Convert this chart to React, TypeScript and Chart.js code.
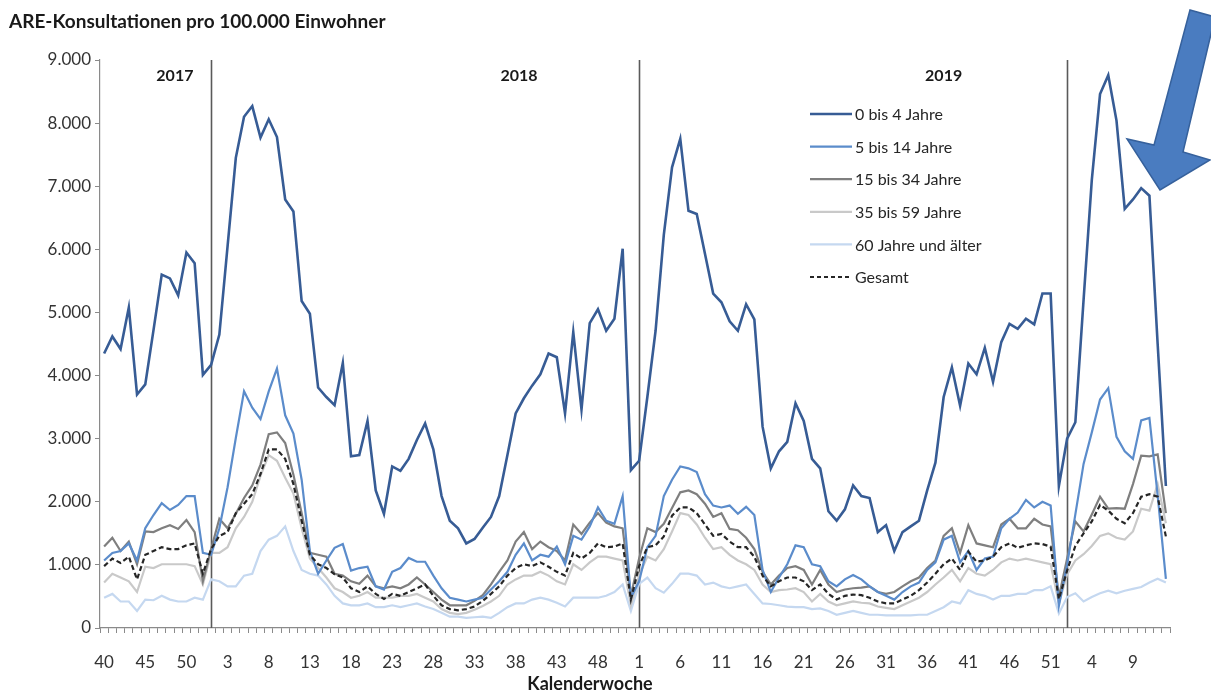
import React, { useEffect, useRef } from 'react';
import { Chart, registerables } from 'chart.js';

Chart.register(...registerables);

// ---- categories (calendar weeks 2017-W40 ... 2020-W13) ----
const range = (a: number, b: number) => Array.from({ length: b - a + 1 }, (_, k) => String(a + k));
const weeks: string[] = [...range(40, 52), ...range(1, 52), ...range(1, 52), ...range(1, 13)];
const yearLabels = ['2017', '2018', '2019'];

const seriesNames = ['0 bis 4 Jahre', '5 bis 14 Jahre', '15 bis 34 Jahre', '35 bis 59 Jahre', '60 Jahre und älter', 'Gesamt'];

const age0_4 = [
  4350, 4620, 4420, 5080, 3700, 3860, 4720, 5600, 5540, 5270, 5950, 5780, 4010,
  4170, 4650, 6050, 7450, 8100, 8270, 7770, 8060, 7780, 6790, 6600, 5180, 4980, 3810, 3660, 3530, 4200, 2720, 2740, 3280, 2180, 1810, 2560, 2490, 2680, 2980, 3240, 2830, 2090, 1700, 1580, 1340, 1410, 1590, 1760, 2090, 2740, 3400, 3640, 3840, 4020, 4350, 4290, 3400, 4690, 3460, 4830, 5050, 4710, 4900, 6010, 2500,
  2650, 3660, 4710, 6230, 7300, 7750, 6610, 6560, 5930, 5300, 5160, 4860, 4710, 5130, 4890, 3190, 2530, 2800, 2950, 3560, 3280, 2680, 2530, 1850, 1700, 1880, 2260, 2090, 2060, 1520, 1630, 1220, 1520, 1610, 1700, 2180, 2620, 3660, 4130, 3520, 4190, 4020, 4440, 3900, 4530, 4820, 4740, 4900, 4810, 5300, 5300, 2250,
  3000, 3260, 5200, 7100, 8460, 8760, 8040, 6640, 6790, 6970, 6850, 4500, 2250,
];

const age5_14 = [
  1070, 1190, 1220, 1340, 1070, 1580, 1790, 1980, 1870, 1950, 2090, 2090, 1190,
  1160, 1580, 2230, 3010, 3750, 3490, 3310, 3750, 4110, 3370, 3080, 2350, 1220, 860, 1070, 1270, 1330, 910, 950, 970, 660, 610, 890, 950, 1110, 1050, 1050, 830, 630, 480, 450, 420, 450, 480, 610, 740, 890, 1160, 1340, 1070, 1160, 1130, 1290, 1010, 1460, 1400, 1610, 1910, 1700, 1650, 2090, 480,
  740, 1280, 1460, 2090, 2350, 2560, 2530, 2470, 2120, 1940, 1910, 1940, 1810, 1920, 1790, 920, 570, 800, 1010, 1310, 1280, 1010, 980, 740, 660, 770, 840, 770, 660, 570, 510, 450, 570, 660, 720, 920, 1040, 1400, 1460, 1040, 1220, 920, 1100, 1130, 1580, 1730, 1830, 2030, 1910, 2000, 1940, 350,
  1000, 1800, 2600, 3100, 3620, 3800, 3030, 2800, 2680, 3290, 3330, 2100, 780,
];

const age15_34 = [
  1290, 1430, 1220, 1370, 1010, 1530, 1520, 1580, 1630, 1570, 1710, 1520, 740,
  1250, 1730, 1580, 1810, 2060, 2260, 2590, 3070, 3100, 2930, 2430, 1820, 1190, 1160, 1130, 860, 830, 740, 700, 830, 660, 630, 660, 630, 690, 800, 690, 570, 450, 360, 360, 360, 430, 520, 690, 890, 1070, 1370, 1520, 1250, 1370, 1280, 1220, 1070, 1640, 1490, 1670, 1820, 1670, 1610, 1580, 510,
  1100, 1580, 1520, 1650, 1900, 2150, 2180, 2120, 1970, 1760, 1820, 1570, 1550, 1430, 1250, 890, 690, 830, 950, 980, 920, 690, 920, 690, 570, 610, 630, 640, 660, 570, 540, 570, 660, 740, 800, 950, 1070, 1460, 1580, 1190, 1630, 1340, 1310, 1280, 1640, 1730, 1580, 1580, 1730, 1640, 1610, 490,
  1100, 1690, 1530, 1800, 2080, 1890, 1900, 1890, 2280, 2730, 2720, 2750, 1820,
];

const age35_59 = [
  720, 860, 800, 740, 570, 970, 950, 1010, 1010, 1010, 1010, 980, 690,
  1190, 1190, 1280, 1580, 1760, 2000, 2410, 2740, 2650, 2380, 2130, 1580, 1100, 950, 800, 630, 570, 480, 510, 570, 480, 480, 480, 510, 510, 540, 480, 420, 300, 240, 220, 240, 290, 350, 420, 510, 690, 770, 830, 830, 890, 830, 740, 690, 1010, 920, 1040, 1130, 1130, 1100, 1070, 360,
  830, 1130, 1070, 1250, 1530, 1820, 1790, 1640, 1430, 1250, 1280, 1160, 1070, 1010, 920, 690, 570, 600, 610, 630, 570, 420, 540, 420, 360, 390, 420, 400, 390, 340, 320, 300, 360, 420, 480, 570, 690, 800, 920, 740, 950, 860, 830, 920, 1040, 1100, 1070, 1100, 1070, 1040, 1010, 390,
  850, 1070, 1170, 1300, 1460, 1500, 1430, 1400, 1530, 1890, 1860, 2280, 1660,
];

const age60plus = [
  480, 540, 420, 420, 270, 450, 440, 510, 450, 420, 420, 480, 450,
  770, 740, 660, 660, 830, 860, 1220, 1400, 1460, 1610, 1220, 920, 860, 830, 690, 510, 390, 360, 360, 390, 330, 330, 360, 330, 360, 390, 340, 300, 240, 180, 180, 160, 170, 180, 160, 240, 330, 390, 390, 450, 480, 450, 400, 340, 480, 480, 480, 480, 510, 570, 690, 270,
  700, 800, 630, 560, 700, 860, 860, 830, 690, 720, 660, 630, 660, 690, 540, 390, 380, 360, 340, 330, 330, 300, 310, 270, 210, 240, 270, 240, 210, 210, 200, 200, 200, 200, 210, 210, 270, 330, 420, 390, 600, 540, 510, 450, 510, 510, 540, 540, 600, 600, 660, 230,
  490, 550, 420, 490, 550, 590, 550, 590, 620, 650, 720, 780, 720,
];

const gesamt = [
  980, 1100, 1030, 1130, 770, 1160, 1220, 1280, 1250, 1250, 1310, 1340, 860,
  1250, 1460, 1520, 1820, 1970, 2120, 2440, 2830, 2830, 2680, 2280, 1700, 1160, 1010, 950, 850, 800, 630, 570, 660, 540, 460, 540, 510, 570, 630, 690, 510, 360, 300, 280, 300, 340, 430, 540, 660, 830, 950, 1010, 980, 1040, 970, 890, 830, 1190, 1100, 1190, 1340, 1280, 1290, 1340, 450,
  980, 1280, 1310, 1450, 1780, 1910, 1910, 1820, 1640, 1460, 1490, 1370, 1280, 1280, 1130, 830, 660, 740, 800, 800, 740, 600, 690, 540, 450, 510, 530, 520, 480, 420, 390, 390, 450, 510, 600, 720, 860, 1010, 1100, 920, 1210, 1050, 1070, 1130, 1280, 1340, 1270, 1310, 1340, 1330, 1290, 460,
  910, 1300, 1500, 1690, 1950, 1860, 1730, 1660, 1820, 2080, 2120, 2080, 1450,
];

const seriesValues = [age0_4, age5_14, age15_34, age35_59, age60plus, gesamt];
const seriesColors = ['#375C95', '#5B8CCB', '#7F7F7F', '#C9C9C9', '#C5D8F0', '#262626'];
const seriesWidths = [2.6, 2.2, 2.2, 2.2, 2.2, 2.2];

const FONT = 'Lato, "Open Sans", sans-serif';
const fmt = (v: number) => String(v).replace(/\B(?=(\d{3})+(?!\d))/g, '.');

const decorPlugin = {
  id: 'decor',
  beforeDatasetsDraw(chart: any) {
    const { ctx, chartArea, scales } = chart;
    const x = scales.x;
    ctx.save();
    ctx.strokeStyle = '#5a5a5a';
    ctx.lineWidth = 1.6;
    weeks.forEach((w, i) => {
      if (w === '1') {
        const px = Math.round(x.getPixelForValue(i)) + 0.5;
        ctx.beginPath();
        ctx.moveTo(px, chartArea.top);
        ctx.lineTo(px, chartArea.bottom);
        ctx.stroke();
      }
    });
    ctx.restore();
  },
  afterDraw(chart: any) {
    const { ctx, scales } = chart;
    const x = scales.x;
    ctx.save();
    // title
    ctx.fillStyle = '#1a1a1a';
    ctx.font = `bold 19px ${FONT}`;
    ctx.textBaseline = 'middle';
    ctx.textAlign = 'left';
    ctx.fillText('ARE-Konsultationen pro 100.000 Einwohner', 9, 22);
    // x axis title
    ctx.textAlign = 'center';
    ctx.font = `bold 18px ${FONT}`;
    ctx.fillText('Kalenderwoche', 590, 684);
    // year labels
    ctx.font = `bold 16px ${FONT}`;
    const yearPos = [8.6, 50.4, 102];
    yearLabels.forEach((t, k) => {
      ctx.fillText(t, x.getPixelForValue(yearPos[k]), 76);
    });
    // legend
    const lx0 = 810, lx1 = 852, ly0 = 114, step = 32.6;
    ctx.font = `16px ${FONT}`;
    ctx.textAlign = 'left';
    seriesNames.forEach((name, k) => {
      const y = ly0 + k * step;
      ctx.beginPath();
      ctx.strokeStyle = seriesColors[k];
      ctx.lineWidth = seriesWidths[k];
      ctx.setLineDash(k === 5 ? [4, 3] : []);
      ctx.moveTo(lx0, y);
      ctx.lineTo(lx1, y);
      ctx.stroke();
      ctx.setLineDash([]);
      ctx.fillStyle = '#262626';
      ctx.fillText(name, lx1 + 3, y + 1);
    });
    // arrow
    const pts = [[1190, 10], [1215, 17], [1183, 152], [1210, 160], [1160, 190], [1127, 139], [1154, 145]];
    ctx.beginPath();
    pts.forEach((p, k) => (k === 0 ? ctx.moveTo(p[0], p[1]) : ctx.lineTo(p[0], p[1])));
    ctx.closePath();
    ctx.fillStyle = '#4A7CC0';
    ctx.fill();
    ctx.strokeStyle = '#36619C';
    ctx.lineWidth = 1.5;
    ctx.stroke();
    ctx.restore();
  },
};

export default function App() {
  const ref = useRef<HTMLCanvasElement | null>(null);
  useEffect(() => {
    document.body.style.margin = '0';
    const order = [5, 0, 1, 2, 3, 4];
    const chart = new Chart(ref.current as HTMLCanvasElement, {
      type: 'line',
      data: {
        labels: weeks,
        datasets: order.map((k) => ({
          label: seriesNames[k],
          data: seriesValues[k],
          borderColor: seriesColors[k],
          backgroundColor: seriesColors[k],
          borderWidth: seriesWidths[k],
          borderDash: k === 5 ? [5, 3] : [],
          pointRadius: 0,
          tension: 0,
          fill: false,
        })),
      },
      options: {
        animation: false,
        responsive: false,
        layout: { padding: { top: 60, right: 41, left: 0, bottom: 0 } },
        plugins: { legend: { display: false }, tooltip: { enabled: false }, title: { display: false } },
        scales: {
          x: {
            type: 'category',
            offset: true,
            afterFit: (s: any) => { s.height = 65; },
            grid: { display: true, drawOnChartArea: false, offset: true, tickLength: 5, color: '#8a8a8a' },
            border: { display: true, color: '#8a8a8a', width: 1.2 },
            ticks: {
              autoSkip: false,
              maxRotation: 0,
              minRotation: 0,
              padding: 19,
              color: '#333333',
              font: { family: FONT, size: 17 },
              callback: (_v: any, i: number) => (i % 5 === 0 ? weeks[i] : ''),
            },
          },
          y: {
            min: 0,
            max: 9000,
            afterFit: (s: any) => { s.width = 100; },
            grid: { display: true, drawOnChartArea: false, tickLength: 5, color: '#8a8a8a' },
            border: { display: true, color: '#8a8a8a', width: 1.2 },
            ticks: {
              stepSize: 1000,
              padding: 4,
              color: '#333333',
              font: { family: FONT, size: 17 },
              callback: (v: any) => fmt(Number(v)),
            },
          },
        },
      },
      plugins: [decorPlugin],
    });
    return () => chart.destroy();
  }, []);
  return (
    <div style={{ width: 1211, height: 693, background: '#fff' }}>
      <canvas ref={ref} width={1211} height={693} />
    </div>
  );
}
